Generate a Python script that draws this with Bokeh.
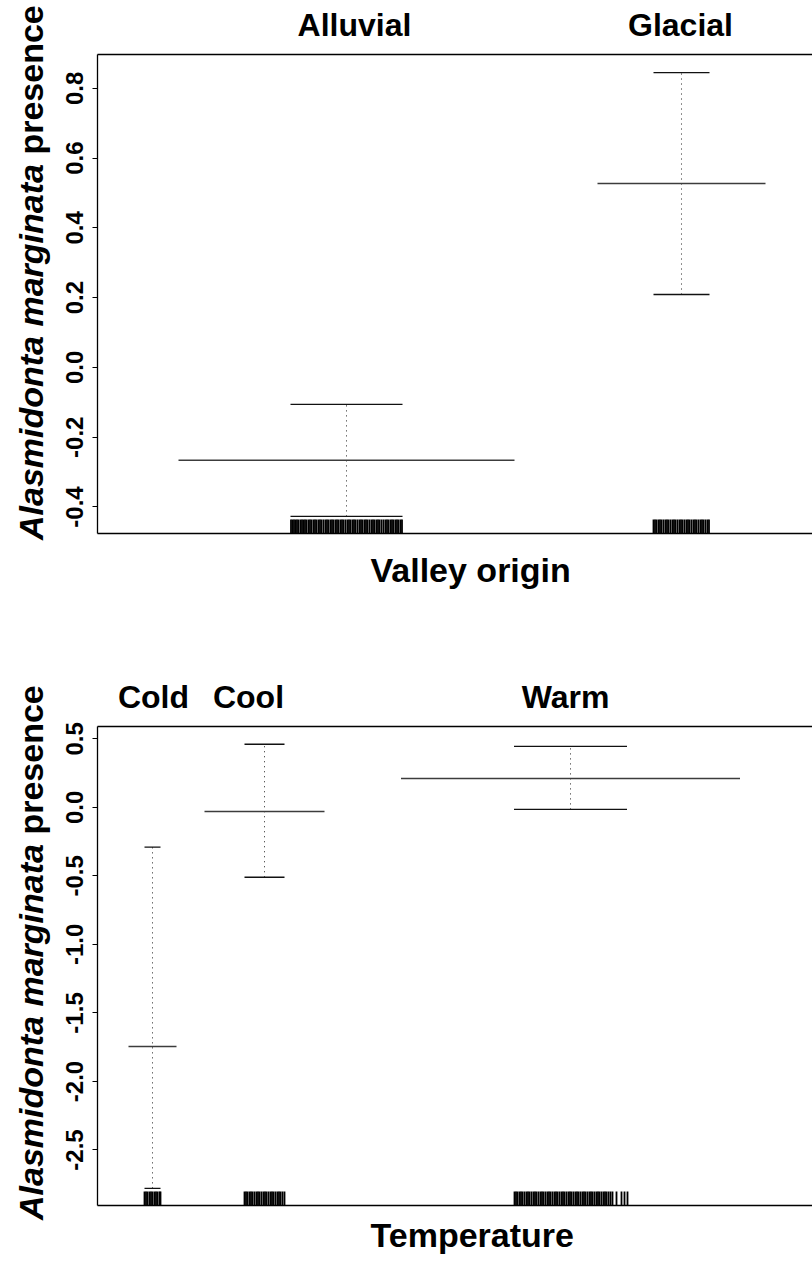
from bokeh.plotting import figure
from bokeh.layouts import column, row
from bokeh.models import FixedTicker, LinearAxis, Range1d, Title, PrintfTickFormatter, ColumnDataSource, Div
from bokeh.embed import file_html
from bokeh.resources import INLINE

# ---------------- data: valley origin panel ----------------
valley_levels = ["Alluvial", "Glacial"]
valley_pos = [249, 584]
valley_label_pos = [257, 583]
valley_halfwidth = [56, 28]
valley_fit = [-0.266, 0.527]
valley_upper = [-0.106, 0.845]
valley_lower = [-0.427, 0.209]
valley_rug = [193.5, 195, 196.5, 198, 199.5, 201, 203, 204.5, 206, 207.5, 209, 211, 212.5, 214, 216,
              217.5, 219, 221, 222.5, 224, 226, 228, 229.5, 231, 233, 234.5, 236, 238, 239.5, 241, 243,
              244.5, 246, 248, 250, 251.5, 253, 255, 256.5, 258, 260, 262, 263.5, 265, 267, 268.5, 270,
              272, 274, 275.5, 277, 279, 280.5, 282, 284, 286, 288, 289.5, 291, 293, 294.5, 296, 298,
              299.5, 301, 303, 304.5,
              556, 557.5, 559, 561, 562.5, 564, 566, 568, 569.5, 571, 573, 575, 576.5, 578, 580, 582,
              583.5, 585, 587, 589, 590.5, 592, 594, 596, 597.5, 599, 601, 603, 604.5, 606, 608, 610, 611.5]
valley_yticks = [-0.4, -0.2, 0.0, 0.2, 0.4, 0.6, 0.8]
valley_ylim = (-0.476, 0.897)

# ---------------- data: temperature panel ----------------
temp_levels = ["Cold", "Cool", "Warm"]
temp_pos = [55, 167, 473]
temp_label_pos = [56, 151, 468]
temp_halfwidth = [8, 20, 56.5]
temp_fit = [-1.745, -0.03, 0.21]
temp_upper = [-0.29, 0.46, 0.445]
temp_lower = [-2.78, -0.51, -0.015]
temp_rug = [47, 48.5, 50, 52, 53.5, 55, 57, 58.5, 60, 62, 63,
            147, 148.5, 150, 152, 153.5, 155, 157, 159, 160.5, 162, 164, 166, 167.5, 169, 171, 173,
            174.5, 176, 178, 180, 181.5, 183, 185, 187,
            417, 418.5, 420, 422, 423.5, 425, 427, 429, 430.5, 432, 434, 436, 437.5, 439, 441, 443,
            444.5, 446, 448, 450, 451.5, 453, 455, 457, 458.5, 460, 462, 464, 465.5, 467, 469, 471,
            472.5, 474, 476, 478, 479.5, 481, 483, 485, 486.5, 488, 490, 492, 493.5, 495, 497, 499,
            500.5, 502, 504, 506, 507.5, 509, 511, 513, 515, 519, 524, 527, 530]
temp_yticks = [-2.5, -2.0, -1.5, -1.0, -0.5, 0.0, 0.5]
temp_ylim = (-2.905, 0.59)

ytitle_italic = "Alasmidonta marginata"
ytitle_rest = "presence"

FONT = "Liberation Sans"
FRAME_W = 715
FRAME_H = 479
TITLE_W = 50
LEFT = 97 - TITLE_W


def make_panel(levels, pos, label_pos, hw, fit, up, lo, rug, yticks, ylim, xlabel,
               fig_top, fig_h, frame_top, xtitle_standoff, ytitle_start):
    border_top = frame_top - fig_top
    border_bottom = fig_h - border_top - FRAME_H
    p = figure(width=LEFT + FRAME_W, height=fig_h,
               x_range=Range1d(0, FRAME_W), y_range=Range1d(*ylim),
               output_backend="svg", toolbar_location=None,
               x_axis_location=None, y_axis_location="left",
               min_border_left=LEFT, min_border_right=0,
               min_border_top=border_top, min_border_bottom=border_bottom)
    p.outline_line_color = None
    p.xgrid.visible = False
    p.ygrid.visible = False
    p.background_fill_color = "white"
    p.border_fill_color = "white"

    ya = p.yaxis[0]
    ya.ticker = FixedTicker(ticks=yticks)
    ya.formatter = PrintfTickFormatter(format="%.1f")
    ya.major_label_orientation = "vertical"
    ya.major_label_text_font = FONT
    ya.major_label_text_font_style = "bold"
    ya.major_label_text_font_size = "24px"
    ya.major_label_text_color = "black"
    ya.major_tick_out = 5
    ya.major_tick_in = 0
    ya.minor_tick_out = 0
    ya.minor_tick_in = 0
    ya.major_label_standoff = 9
    ya.axis_line_width = 1.3
    ya.axis_line_color = "black"
    ya.major_tick_line_color = "black"

    top = LinearAxis(ticker=FixedTicker(ticks=label_pos),
                     major_label_overrides={k: v for k, v in zip(label_pos, levels)},
                     major_tick_out=0, major_tick_in=0, minor_tick_out=0, minor_tick_in=0,
                     major_label_standoff=12,
                     major_label_text_font=FONT, major_label_text_font_style="bold",
                     major_label_text_font_size="32px", major_label_text_color="black",
                     axis_line_width=1.3, axis_line_color="black")
    p.add_layout(top, "above")

    bot = LinearAxis(ticker=FixedTicker(ticks=[]),
                     major_tick_out=0, major_tick_in=0, minor_tick_out=0, minor_tick_in=0,
                     major_label_text_font_size="1px", major_label_standoff=0,
                     axis_line_width=1.3, axis_line_color="black")
    p.add_layout(bot, "below")

    t = Title(text=xlabel, align="left", offset=273, text_font=FONT, text_font_style="bold",
              text_font_size="34px", text_color="black", standoff=xtitle_standoff)
    p.add_layout(t, "below")

    src = ColumnDataSource(dict(
        x=pos,
        fx0=[c - 3 * h for c, h in zip(pos, hw)], fx1=[c + 3 * h for c, h in zip(pos, hw)],
        cx0=[c - h for c, h in zip(pos, hw)], cx1=[c + h for c, h in zip(pos, hw)],
        fit=fit, up=up, lo=lo))
    p.segment(x0="x", y0="lo", x1="x", y1="up", source=src, line_color="#222222",
              line_width=1, line_dash="1 4")
    p.segment(x0="fx0", y0="fit", x1="fx1", y1="fit", source=src, line_color="#3c3c3c", line_width=1.5)
    p.segment(x0="cx0", y0="up", x1="cx1", y1="up", source=src, line_color="#111111", line_width=1.4)
    p.segment(x0="cx0", y0="lo", x1="cx1", y1="lo", source=src, line_color="#111111", line_width=1.4)

    span = ylim[1] - ylim[0]
    p.segment(x0=rug, x1=rug, y0=[ylim[0]] * len(rug), y1=[ylim[0] + 0.029 * span] * len(rug),
              line_color="black", line_width=1.8)

    # y title: rotated HTML text so the species name can be italic
    top_px = ytitle_start - fig_top
    html = (
        f'<div style="position:relative;width:{TITLE_W}px;height:{fig_h}px;overflow:visible;">'
        f'<div style="position:absolute;left:14px;top:{top_px}px;transform:rotate(-90deg);'
        f'transform-origin:0 0;white-space:nowrap;font-family:\'{FONT}\';font-weight:bold;'
        f'font-size:34px;line-height:34px;color:black;">'
        f'<i>{ytitle_italic}</i> {ytitle_rest}</div></div>'
    )
    d = Div(text=html, width=TITLE_W, height=fig_h, margin=0)
    return row(d, p, spacing=0)


H1 = 612
H2 = 1264 - H1
r1 = make_panel(valley_levels, valley_pos, valley_label_pos, valley_halfwidth, valley_fit,
                valley_upper, valley_lower, valley_rug, valley_yticks, valley_ylim,
                "Valley origin", fig_top=0, fig_h=H1, frame_top=54, xtitle_standoff=31, ytitle_start=540)
r2 = make_panel(temp_levels, temp_pos, temp_label_pos, temp_halfwidth, temp_fit,
                temp_upper, temp_lower, temp_rug, temp_yticks, temp_ylim,
                "Temperature", fig_top=H1, fig_h=H2, frame_top=726, xtitle_standoff=17, ytitle_start=1220)

layout = column(r1, r2, spacing=0)
open("out.html", "w").write(file_html(layout, INLINE))
